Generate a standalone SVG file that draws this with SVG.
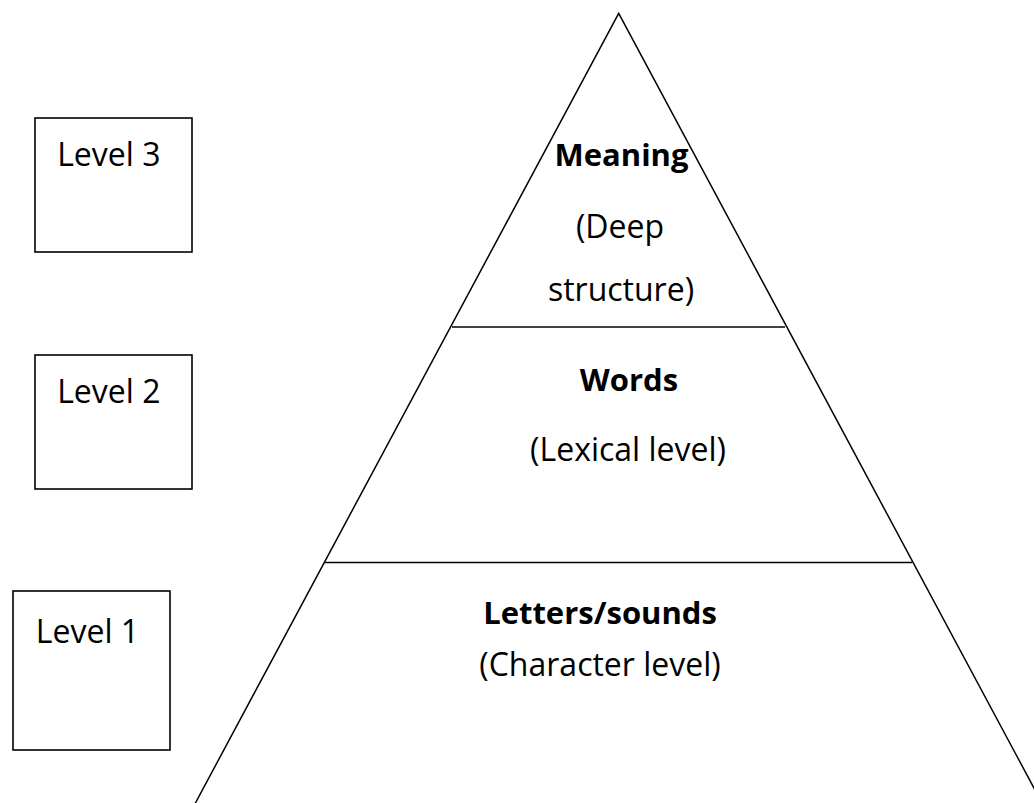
<svg xmlns="http://www.w3.org/2000/svg" width="1034" height="803" viewBox="0 0 1034 803">
  <style>
    .ln { fill: none; stroke: #000; stroke-width: 1.5; }
    .box { fill: #fff; stroke: #000; stroke-width: 1.6; }
    .t { font-family: "Open Sans", "Noto Sans", "Liberation Sans", sans-serif; font-size: 32px; fill: #000; text-anchor: middle; }
    .b { font-family: "Open Sans", "Noto Sans", "Liberation Sans", sans-serif; font-size: 31px; font-weight: bold; fill: #000; text-anchor: middle; }
  </style>
  <rect width="1034" height="803" fill="#fff"/>

  <g id="pyramid">
    <polyline class="ln" points="195.4,803 618.7,13.3 1042,803"/>
    <line class="ln" x1="452" y1="327" x2="785" y2="327"/>
    <line class="ln" x1="324" y1="562.5" x2="912" y2="562.5"/>
  </g>

  <g id="tier-meaning">
    <text class="b" x="621.5" y="166">Meaning</text>
    <text class="t" x="620" y="238">(Deep</text>
    <text class="t" x="621" y="301">structure)</text>
  </g>

  <g id="tier-words">
    <text class="b" x="629" y="391">Words</text>
    <text class="t" x="628" y="461">(Lexical level)</text>
  </g>

  <g id="tier-letters">
    <text class="b" x="600" y="624">Letters/sounds</text>
    <text class="t" x="600" y="676">(Character level)</text>
  </g>

  <g id="level3">
    <rect class="box" x="35" y="118" width="157" height="134"/>
    <text class="t" x="108.8" y="166">Level 3</text>
  </g>

  <g id="level2">
    <rect class="box" x="35" y="355" width="157" height="134"/>
    <text class="t" x="108.8" y="403">Level 2</text>
  </g>

  <g id="level1">
    <rect class="box" x="13" y="591" width="157" height="159"/>
    <text class="t" x="87.5" y="643" font-size="33">Level 1</text>
  </g>
</svg>
